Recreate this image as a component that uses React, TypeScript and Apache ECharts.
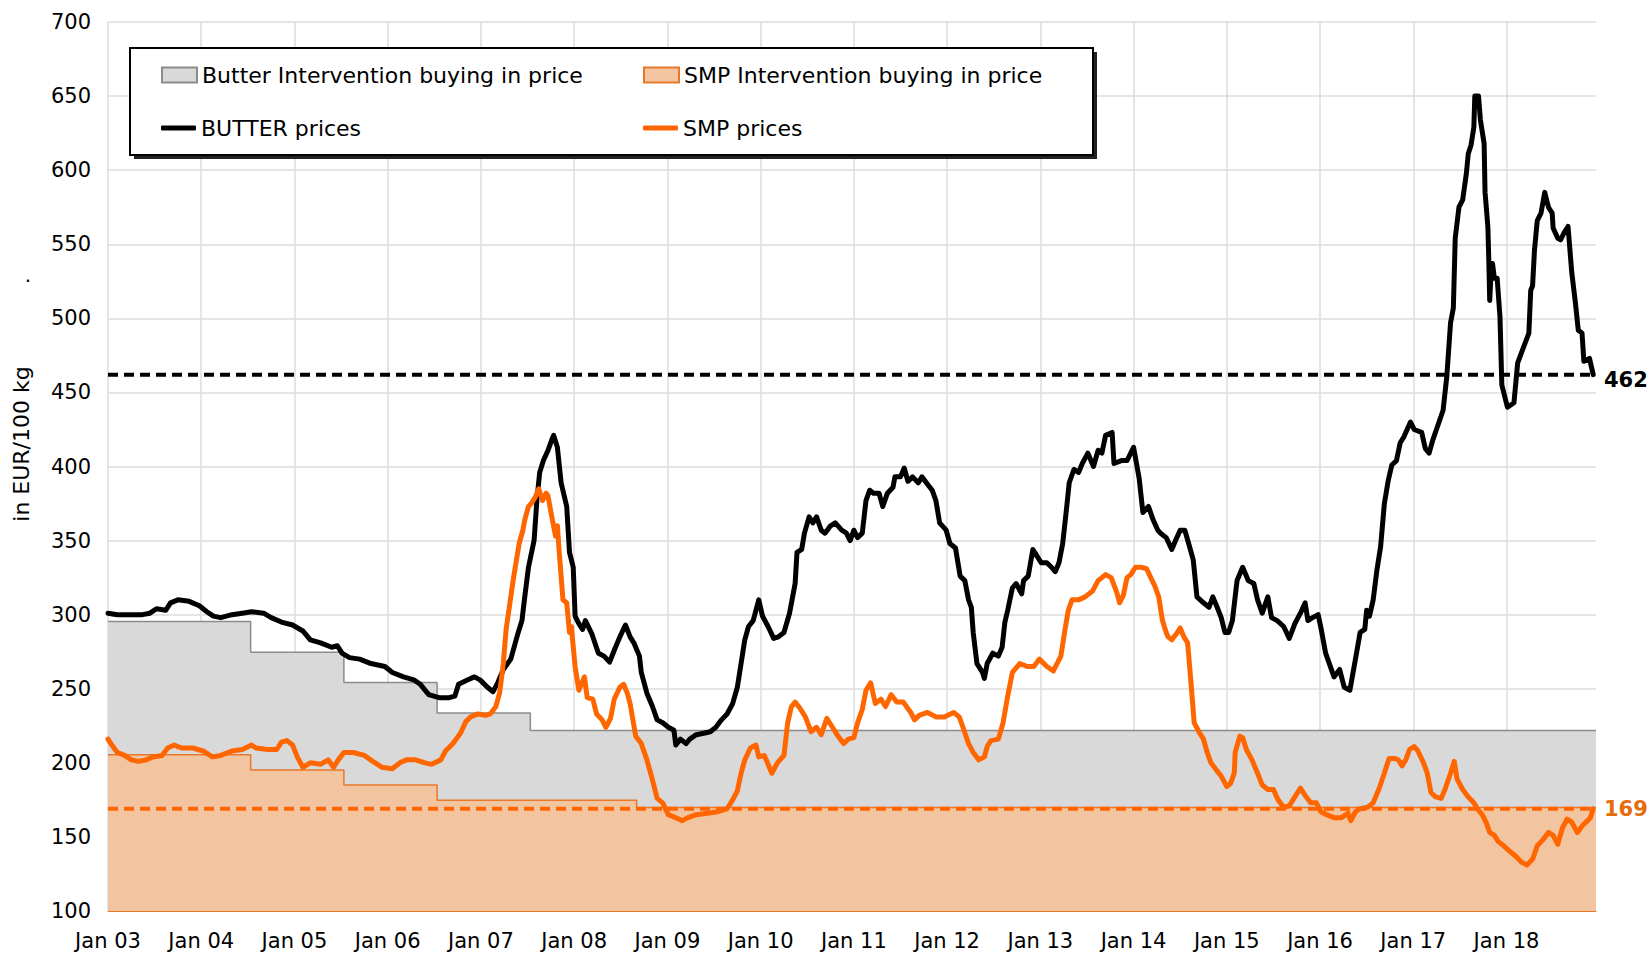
import { useEffect, useRef } from "react";
import * as echarts from "echarts";

const FONT = "DejaVu Sans";
const X_MIN = 2003;
const X_MAX = 2018.96;

const xTickLabels = [
  "Jan 03", "Jan 04", "Jan 05", "Jan 06", "Jan 07", "Jan 08", "Jan 09", "Jan 10",
  "Jan 11", "Jan 12", "Jan 13", "Jan 14", "Jan 15", "Jan 16", "Jan 17", "Jan 18",
];

const seriesNames = [
  "Butter Intervention buying in price",
  "SMP Intervention buying in price",
  "BUTTER prices",
  "SMP prices",
];

// [decimal year, EUR/100 kg]
const butterIntervention: [number, number][] = [
  [2003.0, 295.38], [2004.53, 274.71], [2005.53, 254.19], [2006.53, 233.57],
  [2007.53, 221.75], [2018.96, 221.75],
];
const smpIntervention: [number, number][] = [
  [2003.0, 205.52], [2004.53, 195.24], [2005.53, 184.97], [2006.53, 174.69],
  [2008.67, 169.8], [2018.96, 169.8],
];

const butterLatest = 462;
const smpLatest = 169;

const butterPrices: [number, number][] = [
  [2003.0, 301], [2003.1, 300], [2003.37, 300], [2003.45, 301], [2003.52, 304], [2003.62, 303],
  [2003.67, 308], [2003.75, 310], [2003.87, 309], [2003.98, 306], [2004.06, 302], [2004.13, 299],
  [2004.21, 298], [2004.33, 300], [2004.44, 301], [2004.54, 302], [2004.67, 301], [2004.75, 298],
  [2004.86, 295], [2004.98, 293], [2005.09, 289], [2005.17, 283], [2005.28, 281], [2005.4, 278],
  [2005.46, 279], [2005.51, 274], [2005.59, 271], [2005.7, 270], [2005.82, 267], [2005.97, 265],
  [2006.05, 261], [2006.17, 258], [2006.28, 256], [2006.35, 253], [2006.44, 246], [2006.55, 244],
  [2006.66, 244], [2006.72, 245], [2006.76, 253], [2006.86, 256], [2006.93, 258], [2006.99, 256],
  [2007.07, 251], [2007.13, 248], [2007.18, 254], [2007.24, 263], [2007.32, 270], [2007.4, 288],
  [2007.44, 296], [2007.47, 312], [2007.51, 332], [2007.57, 350], [2007.6, 377], [2007.63, 396],
  [2007.67, 404], [2007.72, 411], [2007.76, 418], [2007.78, 421], [2007.82, 413], [2007.86, 389],
  [2007.92, 373], [2007.95, 342], [2007.99, 332], [2008.01, 299], [2008.05, 294], [2008.09, 290],
  [2008.12, 296], [2008.19, 287], [2008.26, 274], [2008.32, 272], [2008.38, 268], [2008.43, 276],
  [2008.49, 285], [2008.55, 293], [2008.6, 285], [2008.64, 281], [2008.7, 272], [2008.72, 261],
  [2008.78, 247], [2008.84, 238], [2008.89, 229], [2008.95, 227], [2009.01, 224], [2009.07, 222],
  [2009.09, 212], [2009.14, 216], [2009.2, 213], [2009.24, 216], [2009.31, 219], [2009.39, 220],
  [2009.46, 221], [2009.52, 224], [2009.58, 229], [2009.64, 233], [2009.7, 240], [2009.75, 251],
  [2009.79, 267], [2009.83, 283], [2009.87, 292], [2009.92, 296], [2009.98, 310], [2010.02, 299],
  [2010.08, 292], [2010.14, 284], [2010.19, 285], [2010.25, 288], [2010.31, 301], [2010.37, 321],
  [2010.39, 342], [2010.44, 344], [2010.47, 355], [2010.52, 366], [2010.56, 362], [2010.6, 366],
  [2010.65, 357], [2010.69, 355], [2010.75, 360], [2010.8, 362], [2010.87, 357], [2010.92, 355],
  [2010.96, 350], [2011.0, 357], [2011.04, 352], [2011.09, 355], [2011.13, 377], [2011.17, 384],
  [2011.21, 382], [2011.27, 382], [2011.31, 373], [2011.36, 382], [2011.42, 386], [2011.44, 393],
  [2011.5, 393], [2011.54, 399], [2011.58, 390], [2011.63, 393], [2011.69, 389], [2011.73, 393],
  [2011.79, 388], [2011.84, 384], [2011.88, 377], [2011.92, 362], [2011.99, 357], [2012.03, 348],
  [2012.09, 345], [2012.14, 326], [2012.19, 323], [2012.23, 310], [2012.26, 305], [2012.28, 288],
  [2012.32, 267], [2012.38, 261], [2012.4, 257], [2012.43, 267], [2012.49, 274], [2012.55, 272],
  [2012.59, 278], [2012.62, 295], [2012.65, 303], [2012.7, 318], [2012.74, 321], [2012.8, 314],
  [2012.82, 323], [2012.87, 326], [2012.92, 344], [2012.97, 339], [2013.01, 335], [2013.07, 335],
  [2013.12, 332], [2013.16, 329], [2013.2, 335], [2013.24, 348], [2013.28, 371], [2013.31, 389],
  [2013.36, 398], [2013.41, 396], [2013.45, 402], [2013.51, 409], [2013.57, 400], [2013.62, 411],
  [2013.66, 409], [2013.7, 421], [2013.77, 423], [2013.79, 402], [2013.87, 404], [2013.93, 404],
  [2014.0, 413], [2014.06, 392], [2014.1, 369], [2014.16, 373], [2014.21, 364], [2014.26, 357],
  [2014.29, 355], [2014.35, 352], [2014.41, 344], [2014.45, 350], [2014.5, 357], [2014.55, 357],
  [2014.6, 346], [2014.64, 337], [2014.68, 312], [2014.75, 308], [2014.81, 305], [2014.85, 312],
  [2014.89, 306], [2014.94, 298], [2014.98, 288], [2015.02, 288], [2015.06, 296], [2015.11, 323],
  [2015.17, 332], [2015.23, 323], [2015.29, 321], [2015.33, 310], [2015.38, 301], [2015.44, 312],
  [2015.48, 298], [2015.54, 296], [2015.61, 292], [2015.67, 284], [2015.73, 294], [2015.79, 301],
  [2015.84, 308], [2015.87, 296], [2015.92, 298], [2015.98, 300], [2016.01, 291], [2016.06, 274],
  [2016.15, 258], [2016.21, 263], [2016.26, 251], [2016.32, 249], [2016.38, 270], [2016.43, 288],
  [2016.48, 290], [2016.5, 303], [2016.53, 299], [2016.57, 310], [2016.61, 330], [2016.65, 346],
  [2016.69, 375], [2016.73, 390], [2016.77, 401], [2016.82, 404], [2016.86, 416], [2016.9, 420],
  [2016.97, 430], [2017.01, 425], [2017.09, 423], [2017.13, 412], [2017.17, 409], [2017.21, 418],
  [2017.26, 427], [2017.32, 438], [2017.36, 461], [2017.4, 497], [2017.43, 507], [2017.45, 554],
  [2017.49, 575], [2017.53, 580], [2017.57, 598], [2017.59, 611], [2017.62, 617], [2017.65, 629],
  [2017.66, 650], [2017.7, 650], [2017.72, 634], [2017.76, 618], [2017.77, 585], [2017.8, 562],
  [2017.81, 540], [2017.82, 512], [2017.84, 537], [2017.85, 537], [2017.87, 527], [2017.9, 527],
  [2017.93, 501], [2017.95, 455], [2018.01, 440], [2018.08, 443], [2018.12, 470], [2018.18, 480],
  [2018.24, 490], [2018.26, 519], [2018.28, 522], [2018.3, 546], [2018.33, 566], [2018.37, 571],
  [2018.41, 585], [2018.45, 575], [2018.49, 571], [2018.5, 561], [2018.55, 554], [2018.58, 553],
  [2018.62, 558], [2018.66, 562], [2018.7, 531], [2018.74, 510], [2018.77, 492], [2018.81, 490],
  [2018.83, 471], [2018.89, 473], [2018.93, 462],
];

const smpPrices: [number, number][] = [
  [2003.0, 216], [2003.03, 213], [2003.1, 207], [2003.18, 205], [2003.25, 202], [2003.33, 201],
  [2003.41, 202], [2003.48, 204], [2003.58, 205], [2003.64, 210], [2003.71, 212], [2003.79, 210],
  [2003.91, 210], [2004.02, 208], [2004.12, 204], [2004.21, 205], [2004.33, 208], [2004.44, 209],
  [2004.54, 212], [2004.59, 210], [2004.71, 209], [2004.81, 209], [2004.86, 214], [2004.92, 215],
  [2004.98, 212], [2005.03, 204], [2005.09, 197], [2005.17, 200], [2005.28, 199], [2005.36, 202],
  [2005.42, 197], [2005.47, 202], [2005.53, 207], [2005.63, 207], [2005.75, 205], [2005.84, 201],
  [2005.94, 197], [2006.05, 196], [2006.13, 200], [2006.2, 202], [2006.3, 202], [2006.4, 200],
  [2006.47, 199], [2006.57, 202], [2006.62, 208], [2006.7, 213], [2006.78, 220], [2006.84, 228],
  [2006.89, 231], [2006.97, 233], [2007.05, 232], [2007.1, 233], [2007.16, 238], [2007.2, 247],
  [2007.24, 267], [2007.27, 290], [2007.35, 325], [2007.41, 348], [2007.45, 357], [2007.47, 364],
  [2007.51, 373], [2007.54, 375], [2007.58, 379], [2007.62, 385], [2007.66, 377], [2007.7, 382],
  [2007.72, 380], [2007.76, 366], [2007.8, 353], [2007.82, 360], [2007.84, 342], [2007.88, 310],
  [2007.92, 308], [2007.95, 288], [2007.97, 292], [2008.01, 265], [2008.05, 249], [2008.11, 258],
  [2008.14, 244], [2008.2, 243], [2008.24, 233], [2008.3, 229], [2008.34, 224], [2008.39, 230],
  [2008.43, 243], [2008.49, 251], [2008.53, 253], [2008.57, 247], [2008.6, 240], [2008.66, 218],
  [2008.72, 213], [2008.78, 202], [2008.82, 193], [2008.85, 186], [2008.89, 176], [2008.95, 173],
  [2009.01, 165], [2009.09, 163], [2009.16, 161], [2009.22, 163], [2009.31, 165], [2009.43, 166],
  [2009.54, 167], [2009.64, 169], [2009.7, 175], [2009.75, 181], [2009.79, 193], [2009.83, 202],
  [2009.89, 210], [2009.95, 212], [2009.98, 204], [2010.04, 205], [2010.12, 193], [2010.18, 200],
  [2010.25, 205], [2010.29, 227], [2010.33, 238], [2010.37, 241], [2010.42, 237], [2010.48, 231],
  [2010.54, 221], [2010.6, 224], [2010.65, 219], [2010.71, 230], [2010.77, 224], [2010.82, 219],
  [2010.89, 213], [2010.94, 216], [2011.0, 217], [2011.04, 227], [2011.09, 236], [2011.13, 249],
  [2011.18, 254], [2011.23, 240], [2011.29, 243], [2011.34, 238], [2011.4, 246], [2011.46, 241],
  [2011.53, 241], [2011.61, 234], [2011.65, 229], [2011.7, 232], [2011.79, 234], [2011.88, 231],
  [2011.97, 231], [2012.07, 234], [2012.13, 231], [2012.17, 224], [2012.23, 213], [2012.28, 207],
  [2012.34, 202], [2012.4, 204], [2012.43, 211], [2012.47, 215], [2012.55, 216], [2012.6, 227],
  [2012.65, 245], [2012.7, 261], [2012.78, 267], [2012.86, 265], [2012.93, 265], [2012.99, 270],
  [2013.07, 265], [2013.14, 262], [2013.22, 272], [2013.26, 288], [2013.3, 303], [2013.34, 310],
  [2013.41, 310], [2013.48, 312], [2013.56, 316], [2013.62, 323], [2013.7, 327], [2013.76, 325],
  [2013.82, 315], [2013.85, 308], [2013.89, 313], [2013.93, 325], [2013.97, 327], [2014.02, 332],
  [2014.08, 332], [2014.14, 331], [2014.2, 323], [2014.23, 319], [2014.27, 312], [2014.31, 296],
  [2014.35, 288], [2014.37, 285], [2014.41, 283], [2014.47, 288], [2014.5, 291], [2014.54, 285],
  [2014.58, 281], [2014.62, 251], [2014.65, 227], [2014.71, 220], [2014.75, 216], [2014.79, 207],
  [2014.83, 200], [2014.89, 195], [2014.94, 191], [2015.0, 184], [2015.04, 186], [2015.08, 193],
  [2015.09, 207], [2015.14, 218], [2015.17, 217], [2015.21, 209], [2015.27, 202], [2015.33, 193],
  [2015.38, 185], [2015.44, 182], [2015.5, 182], [2015.55, 175], [2015.61, 170], [2015.67, 171],
  [2015.73, 177], [2015.79, 183], [2015.84, 178], [2015.9, 173], [2015.96, 173], [2016.01, 167],
  [2016.07, 165], [2016.15, 163], [2016.23, 163], [2016.3, 166], [2016.33, 161], [2016.38, 167],
  [2016.43, 169], [2016.51, 170], [2016.57, 173], [2016.63, 182], [2016.69, 193], [2016.74, 203],
  [2016.8, 203], [2016.84, 202], [2016.88, 198], [2016.92, 202], [2016.96, 209], [2017.01, 211],
  [2017.05, 208], [2017.11, 200], [2017.15, 193], [2017.19, 180], [2017.24, 177], [2017.3, 176],
  [2017.34, 182], [2017.4, 193], [2017.44, 201], [2017.47, 189], [2017.53, 182], [2017.59, 177],
  [2017.65, 173], [2017.7, 168], [2017.74, 165], [2017.78, 160], [2017.82, 153], [2017.87, 151],
  [2017.91, 147], [2017.97, 144], [2018.04, 140], [2018.1, 137], [2018.16, 133], [2018.22, 131],
  [2018.28, 135], [2018.33, 144], [2018.39, 148], [2018.45, 153], [2018.5, 151], [2018.55, 145],
  [2018.6, 156], [2018.65, 162], [2018.7, 160], [2018.76, 153], [2018.82, 158], [2018.87, 161],
  [2018.9, 163], [2018.93, 169],
];

const GREY_FILL = "#d9d9d9";
const GREY_LINE = "#8c8c8c";
const ORANGE_FILL = "#f2c4a0";
const ORANGE_EDGE = "#e8782a";
const ORANGE = "#ff6600";
const LABEL_ORANGE = "#e46c0a";

function xLabel(v: number): string {
  const i = Math.round(v - X_MIN);
  if (Math.abs(v - X_MIN - i) > 1e-6) return "";
  return xTickLabels[i] ?? "";
}

export default function App() {
  const ref = useRef<HTMLDivElement>(null);

  useEffect(() => {
    if (!ref.current) return;
    const chart = echarts.init(ref.current, undefined, { renderer: "svg" });

    const legendText = { fontFamily: FONT, fontSize: 22, color: "#000" };
    const mkLegend = (name: string, left: number, top: number, icon: string, h: number) => ({
      data: [{ name, icon }],
      left,
      top,
      padding: 0,
      itemWidth: 35,
      itemHeight: h,
      selectedMode: false,
      textStyle: legendText,
      z: 6,
    });

    chart.setOption({
      animation: false,
      textStyle: { fontFamily: FONT },
      grid: { left: 108, right: 56, top: 22, bottom: 43, containLabel: false },
      xAxis: {
        type: "value",
        min: X_MIN,
        max: X_MAX,
        interval: 1,
        axisLine: { show: true, lineStyle: { color: ORANGE_EDGE, width: 1 } },
        axisTick: { show: false },
        axisLabel: {
          formatter: xLabel,
          fontSize: 21,
          fontFamily: FONT,
          color: "#000",
          margin: 19,
          showMaxLabel: false,
        },
        splitLine: {
          show: true,
          showMaxLine: false,
          lineStyle: { color: "#dcdcdc", width: 1.5 },
        },
      },
      yAxis: {
        type: "value",
        min: 100,
        max: 700,
        interval: 50,
        axisLine: { show: false },
        axisTick: { show: false },
        axisLabel: { fontSize: 21, fontFamily: FONT, color: "#000", margin: 17 },
        splitLine: { show: true, lineStyle: { color: "#dcdcdc", width: 1.5 } },
      },
      legend: [
        mkLegend(seriesNames[0], 161, 64, "rect", 15),
        mkLegend(seriesNames[1], 643, 64, "rect", 15),
        mkLegend(seriesNames[2], 161, 117, "roundRect", 5),
        mkLegend(seriesNames[3], 643, 117, "roundRect", 5),
      ],
      graphic: [
        {
          type: "rect",
          z: 4,
          shape: { x: 134, y: 52, width: 963, height: 107 },
          style: { fill: "#222" },
        },
        {
          type: "rect",
          z: 5,
          shape: { x: 130, y: 48, width: 963, height: 107 },
          style: { fill: "#fff", stroke: "#000", lineWidth: 2 },
        },
        {
          type: "text",
          z: 5,
          x: 21,
          y: 444,
          rotation: Math.PI / 2,
          style: {
            text: "in EUR/100 kg",
            fontSize: 22,
            fontFamily: FONT,
            fill: "#000",
            align: "center",
            verticalAlign: "middle",
          },
        },
        {
          type: "text",
          z: 5,
          x: 28,
          y: 275,
          style: {
            text: ".",
            fontSize: 20,
            fontFamily: FONT,
            fill: "#000",
            align: "center",
            verticalAlign: "middle",
          },
        },
      ],
      series: [
        {
          name: seriesNames[0],
          type: "line",
          step: "end",
          data: butterIntervention,
          symbol: "none",
          silent: true,
          lineStyle: { color: GREY_LINE, width: 1.5 },
          itemStyle: { color: GREY_FILL, borderColor: GREY_LINE, borderWidth: 1 },
          areaStyle: { color: GREY_FILL, opacity: 1, origin: "start" },
        },
        {
          name: seriesNames[1],
          type: "line",
          step: "end",
          data: smpIntervention,
          symbol: "none",
          silent: true,
          lineStyle: { color: ORANGE_EDGE, width: 1.5 },
          itemStyle: { color: ORANGE_FILL, borderColor: ORANGE_EDGE, borderWidth: 1 },
          areaStyle: { color: ORANGE_FILL, opacity: 1, origin: "start" },
        },
        {
          name: "butter-latest",
          type: "line",
          data: [[X_MIN, butterLatest], [X_MAX, butterLatest]],
          symbol: "none",
          silent: true,
          lineStyle: { color: "#000", width: 4, type: [10, 6] },
          endLabel: {
            show: true,
            formatter: String(butterLatest),
            fontFamily: FONT,
            fontSize: 21,
            fontWeight: "bold",
            color: "#000",
            distance: 8,
            offset: [0, 5],
          },
        },
        {
          name: "smp-latest",
          type: "line",
          data: [[X_MIN, smpLatest], [X_MAX, smpLatest]],
          symbol: "none",
          silent: true,
          lineStyle: { color: ORANGE, width: 4, type: [10, 6] },
          endLabel: {
            show: true,
            formatter: String(smpLatest),
            fontFamily: FONT,
            fontSize: 21,
            fontWeight: "bold",
            color: LABEL_ORANGE,
            distance: 8,
          },
        },
        {
          name: seriesNames[2],
          type: "line",
          data: butterPrices,
          symbol: "none",
          silent: true,
          lineStyle: { color: "#000", width: 5, cap: "round", join: "round" },
          itemStyle: { color: "#000" },
        },
        {
          name: seriesNames[3],
          type: "line",
          data: smpPrices,
          symbol: "none",
          silent: true,
          lineStyle: { color: ORANGE, width: 5, cap: "round", join: "round" },
          itemStyle: { color: ORANGE },
        },
      ],
    });

    return () => chart.dispose();
  }, []);

  return (
    <div
      ref={ref}
      style={{ position: "absolute", left: 0, top: 0, width: 1652, height: 954, background: "#fff" }}
    />
  );
}
